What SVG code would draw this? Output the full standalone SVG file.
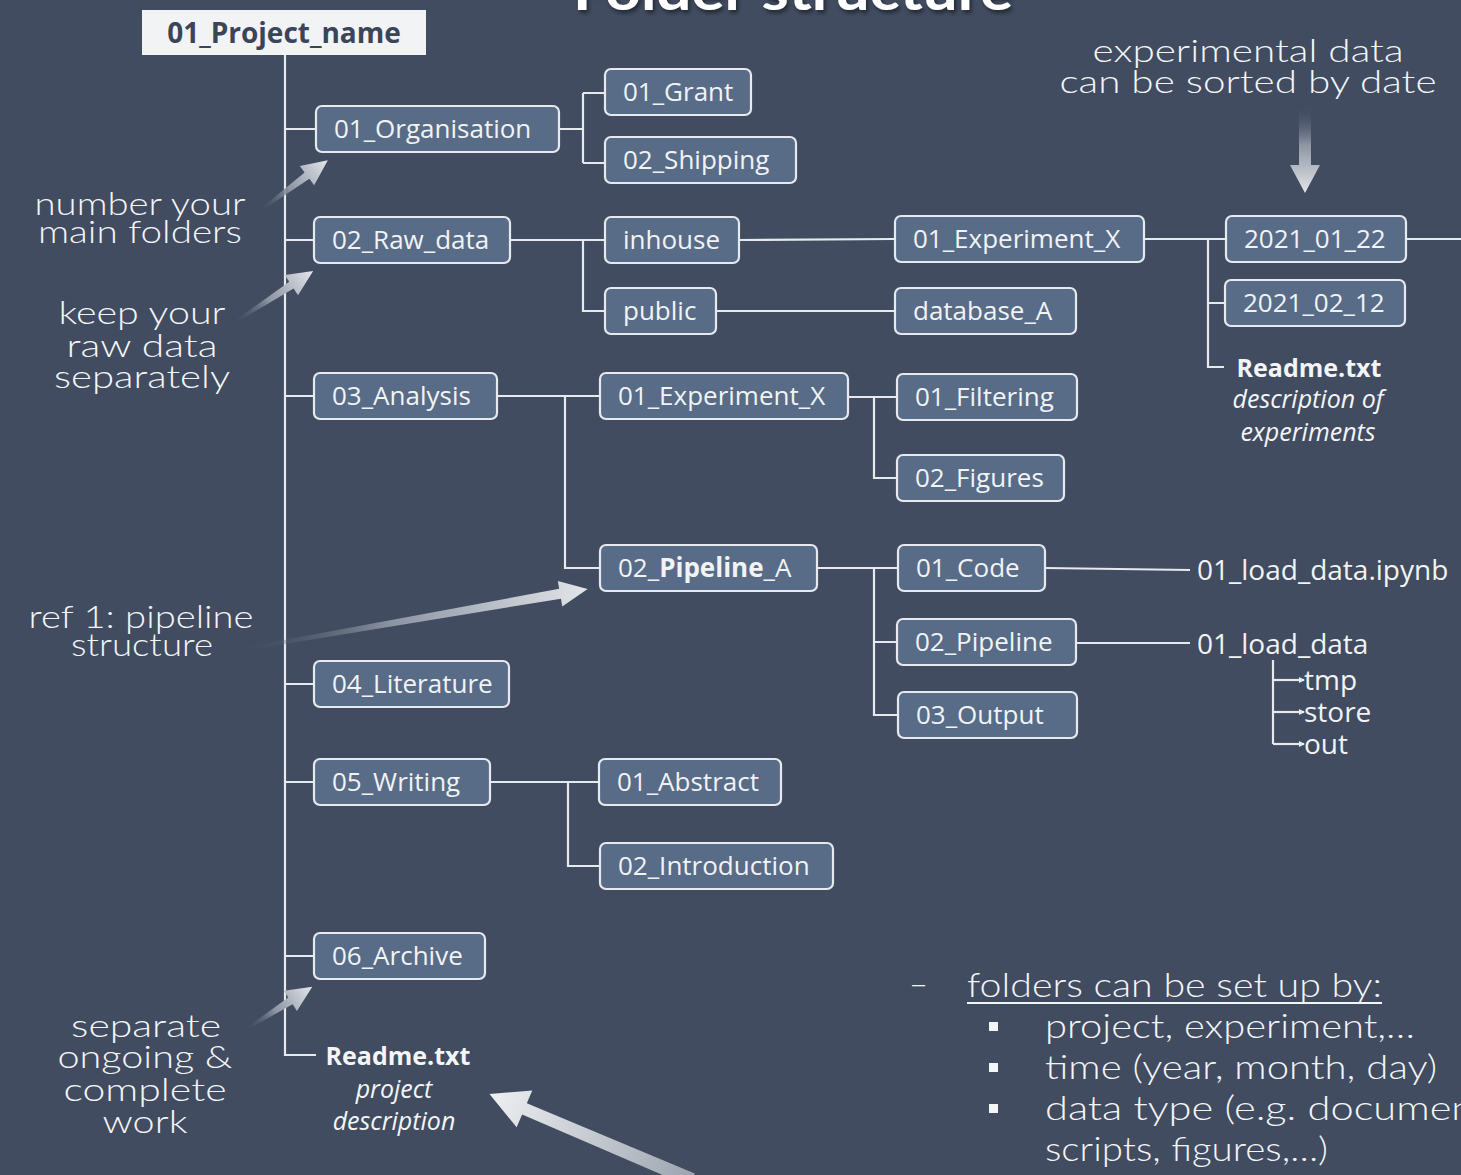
<svg xmlns="http://www.w3.org/2000/svg" width="1461" height="1175" viewBox="0 0 1461 1175">
<defs>
<style>
.bg{fill:#414c60}
.node rect{fill:#586c87;stroke:#e6e9ee;stroke-width:2.2}
.node text,.ft{font-family:"Open Sans","Noto Sans","Liberation Sans",sans-serif;font-size:26px;fill:#f1f3f5}
.ft{font-size:28px}
.con path{fill:none;stroke:#e6e9ee;stroke-width:2.2}
.ann{font-family:Lato,"DejaVu Sans",sans-serif;font-weight:300;font-size:32px;fill:#f4f5f7;text-anchor:middle}
.bul{font-family:Lato,"DejaVu Sans",sans-serif;font-weight:300;font-size:33px;fill:#f4f5f7}
.rb{font-family:"Open Sans","Noto Sans",sans-serif;font-weight:700;font-size:25px;fill:#f4f5f7;text-anchor:middle}
.ri{font-family:"Open Sans","Noto Sans",sans-serif;font-style:italic;font-size:25px;fill:#f4f5f7;text-anchor:middle}
.arr{fill:url(#ag)}
</style>
<linearGradient id="ag" x1="0" y1="0" x2="1" y2="0">
<stop offset="0" stop-color="#414c60" stop-opacity="0"/>
<stop offset="0.45" stop-color="#8d95a3"/>
<stop offset="1" stop-color="#e3e6ea"/>
</linearGradient>
<linearGradient id="ag2" x1="0" y1="0" x2="1" y2="0">
<stop offset="0" stop-color="#9ea5b1"/>
<stop offset="1" stop-color="#eef0f2"/>
</linearGradient>
<marker id="sm" viewBox="0 0 6 6" refX="5" refY="3" markerWidth="6" markerHeight="6" markerUnits="userSpaceOnUse" orient="auto">
<path d="M0,0 L6,3 L0,6 Z" fill="#e6e9ee"/>
</marker>
<filter id="sh" x="-5%" y="-50%" width="110%" height="200%">
<feDropShadow dx="2" dy="3" stdDeviation="2" flood-color="#000" flood-opacity="0.5"/>
</filter>
</defs>
<rect class="bg" x="0" y="0" width="1461" height="1175"/>

<text x="573" y="10" textLength="440" lengthAdjust="spacingAndGlyphs" filter="url(#sh)" style="font-family:Lato,'DejaVu Sans',sans-serif;font-weight:700;font-size:54px;fill:#ffffff">Folder structure</text>

<g class="con">
<path d="M285,55 V1055 H316"/>
<path d="M285,129 H316 M285,240 H314 M285,396 H314 M285,684 H314 M285,782 H314 M285,956 H314"/>
<path d="M559,129 H583 M583,93 V163 M583,93 H605 M583,163 H605"/>
<path d="M510,240 H605 M583,240 V311 H605"/>
<path d="M739,240 L895,239 M716,311 H895"/>
<path d="M1144,239 H1226 M1208,239 V367 H1224 M1208,303 H1225 M1406,239 H1461"/>
<path d="M497,396 H600 M565,396 V568 H600"/>
<path d="M848,397 H897 M874,397 V478 H897"/>
<path d="M817,568 H898 M874,568 V715 H898 M874,642 H897"/>
<path d="M1045,568 L1190,570 M1076,643 H1190"/>
<path d="M490,782 H599 M568,782 V866 H600"/>
<path d="M1273,660 V744"/>
<path d="M1273,680 H1304" marker-end="url(#sm)"/>
<path d="M1273,712 H1304" marker-end="url(#sm)"/>
<path d="M1273,744 H1304" marker-end="url(#sm)"/>
</g>

<g id="n-root"><rect x="142" y="10" width="284" height="45" fill="#f2f3f4"/><text x="284" y="43" text-anchor="middle" style="font-family:'Open Sans','Noto Sans',sans-serif;font-weight:700;font-size:28px;fill:#3b4558">01_Project_name</text></g>
<g id="n-org" class="node"><rect x="316" y="106" width="243" height="46" rx="6"/><text x="334" y="138">01_Organisation</text></g>
<g id="n-grant" class="node"><rect x="605" y="69" width="146" height="46" rx="6"/><text x="623" y="101">01_Grant</text></g>
<g id="n-shipping" class="node"><rect x="605" y="137" width="191" height="46" rx="6"/><text x="623" y="169">02_Shipping</text></g>
<g id="n-raw" class="node"><rect x="314" y="217" width="196" height="46" rx="6"/><text x="332" y="249">02_Raw_data</text></g>
<g id="n-inhouse" class="node"><rect x="605" y="217" width="134" height="46" rx="6"/><text x="623" y="249">inhouse</text></g>
<g id="n-public" class="node"><rect x="605" y="288" width="111" height="46" rx="6"/><text x="623" y="320">public</text></g>
<g id="n-expx1" class="node"><rect x="895" y="216" width="249" height="46" rx="6"/><text x="913" y="248">01_Experiment_X</text></g>
<g id="n-dba" class="node"><rect x="895" y="288" width="181" height="46" rx="6"/><text x="913" y="320">database_A</text></g>
<g id="n-d0122" class="node"><rect x="1226" y="216" width="180" height="46" rx="6"/><text x="1244" y="248">2021_01_22</text></g>
<g id="n-d0212" class="node"><rect x="1225" y="280" width="180" height="46" rx="6"/><text x="1243" y="312">2021_02_12</text></g>
<g id="n-readme2"><text class="rb" x="1309" y="377">Readme.txt</text><text class="ri" x="1308" y="408">description of</text><text class="ri" x="1308" y="441">experiments</text></g>
<g id="n-analysis" class="node"><rect x="314" y="373" width="183" height="46" rx="6"/><text x="332" y="405">03_Analysis</text></g>
<g id="n-expx2" class="node"><rect x="600" y="373" width="248" height="46" rx="6"/><text x="618" y="405">01_Experiment_X</text></g>
<g id="n-filtering" class="node"><rect x="897" y="374" width="180" height="46" rx="6"/><text x="915" y="406">01_Filtering</text></g>
<g id="n-figures" class="node"><rect x="897" y="455" width="167" height="46" rx="6"/><text x="915" y="487">02_Figures</text></g>
<g id="n-pipea" class="node"><rect x="600" y="545" width="217" height="46" rx="6"/><text x="618" y="577">02_<tspan font-weight="700">Pipeline</tspan>_A</text></g>
<g id="n-code" class="node"><rect x="898" y="545" width="147" height="46" rx="6"/><text x="916" y="577">01_Code</text></g>
<g id="n-pipeline" class="node"><rect x="897" y="619" width="179" height="46" rx="6"/><text x="915" y="651">02_Pipeline</text></g>
<g id="n-output" class="node"><rect x="898" y="692" width="179" height="46" rx="6"/><text x="916" y="724">03_Output</text></g>
<g id="n-ipynb"><text class="ft" x="1197" y="580">01_load_data.ipynb</text></g>
<g id="n-load"><text class="ft" x="1197" y="654">01_load_data</text></g>
<g id="n-tmp"><text class="ft" x="1304" y="690">tmp</text></g>
<g id="n-store"><text class="ft" x="1304" y="722">store</text></g>
<g id="n-out"><text class="ft" x="1304" y="754">out</text></g>
<g id="n-lit" class="node"><rect x="314" y="661" width="195" height="46" rx="6"/><text x="332" y="693">04_Literature</text></g>
<g id="n-writing" class="node"><rect x="314" y="759" width="176" height="46" rx="6"/><text x="332" y="791">05_Writing</text></g>
<g id="n-abstract" class="node"><rect x="599" y="759" width="182" height="46" rx="6"/><text x="617" y="791">01_Abstract</text></g>
<g id="n-intro" class="node"><rect x="600" y="843" width="233" height="46" rx="6"/><text x="618" y="875">02_Introduction</text></g>
<g id="n-archive" class="node"><rect x="314" y="933" width="171" height="46" rx="6"/><text x="332" y="965">06_Archive</text></g>
<g id="n-readme1"><text class="rb" x="398" y="1065">Readme.txt</text><text class="ri" x="394" y="1098">project</text><text class="ri" x="394" y="1130">description</text></g>

<g id="annotations">
<text class="ann" x="1248" y="62" textLength="311" lengthAdjust="spacingAndGlyphs">experimental data</text>
<text class="ann" x="1248" y="93" textLength="377" lengthAdjust="spacingAndGlyphs">can be sorted by date</text>
<text class="ann" x="140" y="215" textLength="211" lengthAdjust="spacingAndGlyphs">number your</text>
<text class="ann" x="140" y="243" textLength="204" lengthAdjust="spacingAndGlyphs">main folders</text>
<text class="ann" x="142" y="324" textLength="167" lengthAdjust="spacingAndGlyphs">keep your</text>
<text class="ann" x="142" y="357" textLength="151" lengthAdjust="spacingAndGlyphs">raw data</text>
<text class="ann" x="142" y="388" textLength="176" lengthAdjust="spacingAndGlyphs">separately</text>
<text class="ann" x="141" y="628" textLength="225" lengthAdjust="spacingAndGlyphs">ref 1: pipeline</text>
<text class="ann" x="142" y="656" textLength="142" lengthAdjust="spacingAndGlyphs">structure</text>
<text class="ann" x="146" y="1037" textLength="150" lengthAdjust="spacingAndGlyphs">separate</text>
<text class="ann" x="145" y="1068" textLength="175" lengthAdjust="spacingAndGlyphs">ongoing &amp;</text>
<text class="ann" x="145" y="1101" textLength="163" lengthAdjust="spacingAndGlyphs">complete</text>
<text class="ann" x="145" y="1133" textLength="85" lengthAdjust="spacingAndGlyphs">work</text>
</g>

<g id="arrows">
<path class="arr" transform="translate(258,212) rotate(-36.6)" d="M0,-1 L61,-4 L61,-12 L87,0 L61,12 L61,4 L0,1 Z"/>
<path class="arr" transform="translate(232,324) rotate(-33.2)" d="M0,-1 L71,-4 L71,-12 L97,0 L71,12 L71,4 L0,1 Z"/>
<path class="arr" transform="translate(232,651) rotate(-9.9)" d="M0,-1.5 L333,-5 L333,-13 L361,0 L333,13 L333,5 L0,1.5 Z"/>
<path class="arr" transform="translate(245,1030) rotate(-32.7)" d="M0,-1 L54,-4 L54,-12 L80,0 L54,12 L54,4 L0,1 Z"/>
<path fill="url(#ag2)" transform="translate(692,1180) rotate(-157)" d="M0,-7 L182,-6 L182,-20 L220,0 L182,20 L182,6 L0,7 Z"/>
<path class="arr" transform="translate(1305,105) rotate(90)" d="M0,-6 L60,-6 L60,-15 L88,0 L60,15 L60,6 L0,6 Z"/>
</g>

<g id="list">
<text class="bul" x="909" y="995">–</text>
<text class="bul" x="967" y="997" textLength="415" lengthAdjust="spacingAndGlyphs">folders can be set up by:</text>
<line x1="967" y1="1003" x2="1382" y2="1003" stroke="#f4f5f7" stroke-width="2"/>
<rect x="989" y="1022" width="9" height="9" fill="#f4f5f7"/>
<rect x="989" y="1063" width="9" height="9" fill="#f4f5f7"/>
<rect x="989" y="1104" width="9" height="9" fill="#f4f5f7"/>
<text class="bul" x="1045" y="1038" textLength="370" lengthAdjust="spacingAndGlyphs">project, experiment,…</text>
<text class="bul" x="1045" y="1079" textLength="392" lengthAdjust="spacingAndGlyphs">time (year, month, day)</text>
<text class="bul" x="1045" y="1120" textLength="470" lengthAdjust="spacingAndGlyphs">data type (e.g. documents,</text>
<text class="bul" x="1045" y="1161" textLength="283" lengthAdjust="spacingAndGlyphs">scripts, figures,…)</text>
</g>
</svg>
